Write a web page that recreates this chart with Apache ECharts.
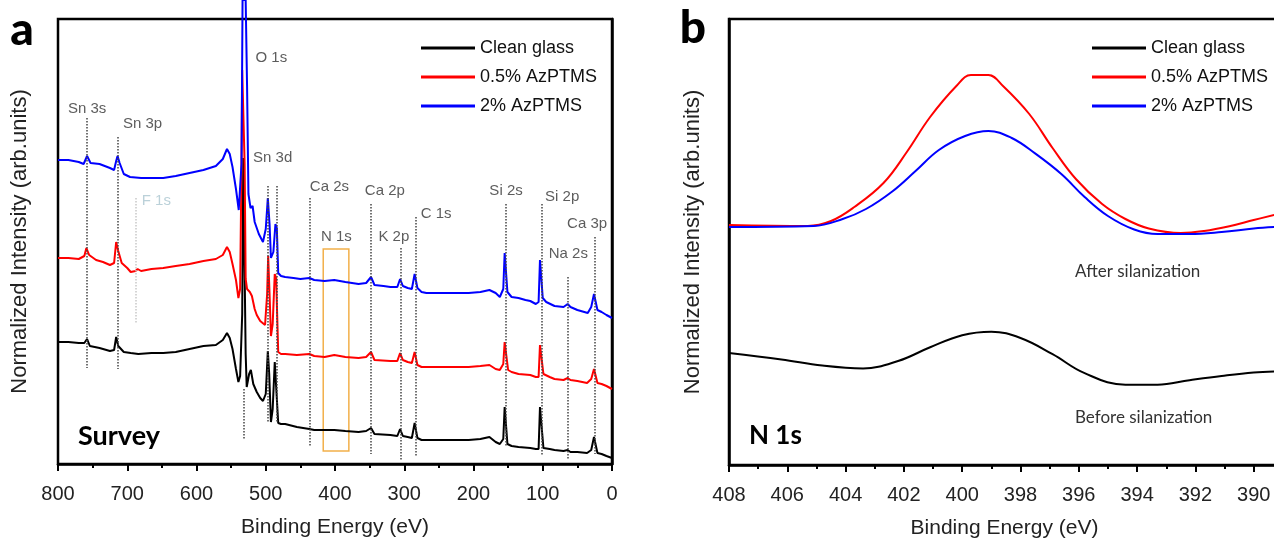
<!DOCTYPE html>
<html>
<head>
<meta charset="utf-8">
<script src="https://cdn.jsdelivr.net/npm/echarts@6.0.0/dist/echarts.min.js"></script>
<style>html,body{margin:0;background:#fff}#chart{width:1274px;height:543px}</style>
</head>
<body>
<div id="chart"></div>
<script>
"use strict";

var seriesNames = ['Clean glass', '0.5% AzPTMS', '2% AzPTMS'];
var seriesColors = ['#000000', '#ff0000', '#0000ff'];

// survey spectra, [binding energy, offset intensity]
var surveyClean = [[800,122],[785,122],[770,121],[762,121],[758,125],[754,118],[740,116],[725,113],[719,114],[716,127],[713,118],[705,112],[695,111],[684,110],[665,111],[648,111],[630,112],[610,115],[590,118],[572,119],[562,124],[556,131],[552,126],[548,115],[543,95],[539.5,82],[537,88],[534,150],[532.5,306],[531,220],[529,110],[527.5,77],[524,90],[521.5,94],[518,80],[513,72],[508,66],[504,63],[500,70],[497,113],[495,90],[492.5,42],[490,55],[487,102],[485,100],[482,41],[478,40],[472,40],[455,37],[437,35],[430,34],[415,34],[401,34],[385,33],[366,32],[355,33],[348,36],[343,30],[320,29],[310,28],[306,35],[302,28],[295,27],[289,26],[285,41],[281,26],[275,24],[268,24],[240,24],[207,24],[190,25],[177,27],[168,22],[162,20],[157,25],[155,57],[153,57],[151,20],[145,18],[135,17],[118,16],[110,15],[106,15],[104,57],[102,57],[99,16],[90,15],[83,14],[70,13],[64,14],[60,12],[50,12],[36,11],[30,14],[26,27],[24,25],[21,11],[15,10],[8,8],[0,6]];
var surveyLow = [[800,206],[785,206],[770,205],[762,208],[759,216],[755,209],[745,204],[735,202],[725,199],[719,201],[716,222],[713,213],[708,201],[700,196],[695,192],[688,193],[685,195],[680,193],[665,195],[648,196],[630,198],[610,200],[590,203],[572,205],[562,209],[556,217],[552,212],[548,200],[543,184],[539.5,166],[537,175],[535,300],[534,394],[532,394],[530.5,300],[529,185],[527,175],[523,172],[520,168],[516,155],[513,149],[508,143],[501,139],[498,170],[496.5,208],[494.5,170],[492.5,128],[490,140],[487,190],[485,186],[482,112],[478,110],[472,110],[455,109],[437,110],[430,108],[415,107],[401,109],[385,107],[366,106],[355,107],[348,112],[343,104],[320,103],[310,103],[306,111],[302,104],[295,102],[289,101],[285,112],[281,99],[275,97],[268,97],[240,97],[207,97],[190,98],[177,99],[168,95],[162,94],[157,100],[155,122],[153,120],[150,94],[145,92],[135,90],[118,89],[110,87],[106,87],[104,119],[102,118],[99,90],[90,87],[83,85],[70,84],[64,86],[60,84],[50,83],[36,81],[30,85],[26,95],[24,93],[21,81],[15,80],[8,78],[0,75]];
var surveyHigh = [[800,304],[785,304],[770,302],[763,300],[758,308],[753,301],[740,300],[725,296],[719,294],[716,303],[714,308],[711,301],[705,290],[696,287],[680,286],[660,286],[648,286],[630,288],[610,291],[590,294],[572,298],[562,305],[556,315],[552,310],[548,297],[543,275],[539,254],[536.5,252],[535,300],[533.5,464],[529,464],[527,379],[525,270],[522,256],[519,258],[516,242],[510,230],[504,222],[500,235],[497,266],[494.5,240],[492.5,206],[489,212],[486,240],[484,236],[482,191],[478,188],[472,187],[460,186],[450,185],[437,186],[430,184],[415,183],[401,184],[385,182],[366,180],[355,181],[348,187],[343,179],[330,178],[320,177],[310,177],[306,185],[302,178],[295,176],[289,175],[285,190],[281,176],[275,172],[268,171],[240,171],[207,171],[190,172],[177,174],[168,171],[162,167],[157,175],[155,211],[153,211],[151,172],[145,167],[135,166],[125,164],[118,163],[110,160],[106,162],[104,204],[102,204],[100,166],[95,162],[83,158],[70,157],[64,160],[60,157],[50,154],[40,152],[35,151],[30,157],[26,170],[24,168],[21,154],[15,152],[8,149],[0,146]];

// N 1s region
var n1sClean = [[408,112],[406.2,105.6],[404.8,99.4],[403.4,96.6],[402.2,104],[401.1,117.7],[400,129.8],[399,133.3],[398,127],[396.9,110.8],[395.8,91.8],[394.4,80.3],[393.3,80.3],[392.2,84.8],[391.1,89],[390,92.5],[389.3,93.5]];
var n1sLow = [[408,240],[405.3,239],[404.5,244],[403.7,258],[402.7,282],[401.9,313],[401.1,348],[400.2,379],[399.7,390],[399.1,390],[398.6,379],[397.7,351],[396.9,317],[396.1,286],[395.2,261],[394.4,246],[393.6,236.5],[392.5,232],[391.7,234],[390.8,239],[390,245],[389.3,250]];
var n1sHigh = [[408,238],[405.1,239],[404.1,246],[403.3,256],[402.4,273.5],[401.6,294],[400.8,315],[399.9,329],[399.1,334],[398.3,327],[397.5,311.6],[396.6,291],[395.8,268],[395,249],[394.1,235.5],[393.3,231],[392.2,231],[391.1,233],[390,236.5],[389.3,238]];

// peak names: [label, energy, height]
var peakLabels = [
    ['Sn 3s', 758, 355], ['Sn 3p', 678, 340], ['F 1s', 658, 263], ['O 1s', 492, 406],
    ['Sn 3d', 490, 306], ['Ca 2s', 408, 277], ['N 1s', 398, 227], ['Ca 2p', 328, 273],
    ['K 2p', 315, 227], ['C 1s', 254, 250], ['Si 2s', 153, 273], ['Si 2p', 72, 267],
    ['Ca 3p', 36, 240], ['Na 2s', 63, 210]
];
// dotted guides: [energy, top, bottom]
var peakLines = [
    [758, 346, 96], [714, 327, 95], [532, 75, 25], [496.5, 278, 42], [484, 278, 42],
    [436, 266, 18], [348, 260, 10], [305.6, 216, 3], [283, 247, 8], [154, 260, 17],
    [102, 260, 8], [25, 227, 10], [64, 187, 5]
];
var fLine = [688, 266, 140];
var n1sBox = [417, 215, 380, 13];

var fontA = 'Liberation Sans, Arial, sans-serif';
var myChart = echarts.init(document.getElementById('chart'));

function xAxisOpt(idx, min, max, interval, pad) {
    return {
        gridIndex: idx, type: 'value', min: min, max: max, interval: interval, inverse: true,
        axisLine: { onZero: false, lineStyle: { color: '#000', width: 2.5 } },
        axisTick: { length: 7, lineStyle: { color: '#000', width: 2 } },
        minorTick: { show: true, splitNumber: 2, length: 4, lineStyle: { color: '#000', width: 2 } },
        splitLine: { show: false },
        axisLabel: { fontSize: 20, color: '#222', margin: 20, fontFamily: fontA },
        name: 'Binding Energy (eV)', nameLocation: 'middle', nameGap: 53,
        nameTextStyle: { fontSize: 21, color: '#222', fontFamily: fontA, padding: pad }
    };
}
function yAxisOpt(idx, max, gap) {
    return {
        gridIndex: idx, type: 'value', min: 0, max: max,
        axisLine: { show: true, lineStyle: { color: '#000', width: 2.5 } },
        axisTick: { show: false }, axisLabel: { show: false }, splitLine: { show: false },
        name: 'Normalized Intensity (arb.units)', nameLocation: 'middle', nameGap: gap,
        nameTextStyle: { fontSize: 22, color: '#222', fontFamily: fontA }
    };
}
function curve(i, data, grid, smooth) {
    return {
        name: seriesNames[i], type: 'line', xAxisIndex: grid, yAxisIndex: grid,
        data: data, symbol: 'none', clip: false, z: 3, smooth: smooth || false,
        lineStyle: { color: seriesColors[i], width: 2 }, itemStyle: { color: seriesColors[i] }
    };
}
function legendOpt(left) {
    return {
        left: left, top: 34, orient: 'vertical', data: seriesNames,
        icon: 'rect', itemWidth: 54, itemHeight: 3, itemGap: 11,
        textStyle: { fontSize: 18, color: '#111', fontFamily: fontA }
    };
}

var option = {
    animation: false,
    grid: [
        { left: 58, top: 19, width: 554, bottom: 79, show: true, borderColor: '#000', borderWidth: 2.5, outerBoundsMode: 'none' },
        { left: 729, top: 19, width: 583, bottom: 78, show: true, borderColor: '#000', borderWidth: 2.5, outerBoundsMode: 'none' }
    ],
    xAxis: [
        xAxisOpt(0, 0, 800, 100, 0),
        xAxisOpt(1, 388, 408, 2, [0, 32, 0, 0])
    ],
    yAxis: [yAxisOpt(0, 445, 27), yAxisOpt(1, 446, 25)],
    legend: [legendOpt(416), legendOpt(1087)],
    series: [
        {
            type: 'line', xAxisIndex: 0, yAxisIndex: 0, data: [], z: 1, silent: true,
            markLine: {
                symbol: 'none', silent: true, label: { show: false },
                lineStyle: { type: 'dotted', color: '#444', width: 1.5 },
                data: peakLines.map(function (l) {
                    return [{ coord: [l[0], l[1]] }, { coord: [l[0], l[2]] }];
                }).concat([[{ coord: [fLine[0], fLine[1]], lineStyle: { color: '#c8c8c8' } }, { coord: [fLine[0], fLine[2]] }]])
            },
            markArea: {
                silent: true,
                itemStyle: { color: 'rgba(0,0,0,0)', borderColor: '#f2b04a', borderWidth: 1.5 },
                data: [[{ coord: [n1sBox[0], n1sBox[1]] }, { coord: [n1sBox[2], n1sBox[3]] }]]
            }
        },
        curve(0, surveyClean, 0), curve(1, surveyLow, 0), curve(2, surveyHigh, 0),
        curve(0, n1sClean, 1, 0.4), curve(1, n1sLow, 1, 0.4), curve(2, n1sHigh, 1, 0.4),
        {
            type: 'scatter', xAxisIndex: 0, yAxisIndex: 0, symbolSize: 0, silent: true, z: 4,
            data: peakLabels.map(function (p) {
                var d = { name: p[0], value: [p[1], p[2]] };
                if (p[0] === 'F 1s') d.label = { color: '#aac6cf' };
                return d;
            }),
            label: { show: true, formatter: '{b}', position: 'inside', fontSize: 15, color: '#333', fontFamily: fontA }
        }
    ],
    graphic: [
        { type: 'text', x: 22, y: 30, style: { text: 'a', font: '900 46px Lato', fill: '#000', align: 'center', verticalAlign: 'middle' } },
        { type: 'text', x: 693, y: 28, style: { text: 'b', font: '900 46px Lato', fill: '#000', align: 'center', verticalAlign: 'middle' } },
        { type: 'text', x: 78, y: 436, style: { text: 'Survey', font: 'bold 27px Lato', fill: '#000', verticalAlign: 'middle' } },
        { type: 'text', x: 749, y: 436, style: { text: 'N 1s', font: 'bold 26px Lato', fill: '#000', verticalAlign: 'middle' } },
        { type: 'text', x: 1075, y: 272, style: { text: 'After silanization', font: '17px Lato', fill: '#333', verticalAlign: 'middle' } },
        { type: 'text', x: 1075, y: 418, style: { text: 'Before silanization', font: '17px Lato', fill: '#333', verticalAlign: 'middle' } }
    ]
};
myChart.setOption(option);
</script>
</body>
</html>
